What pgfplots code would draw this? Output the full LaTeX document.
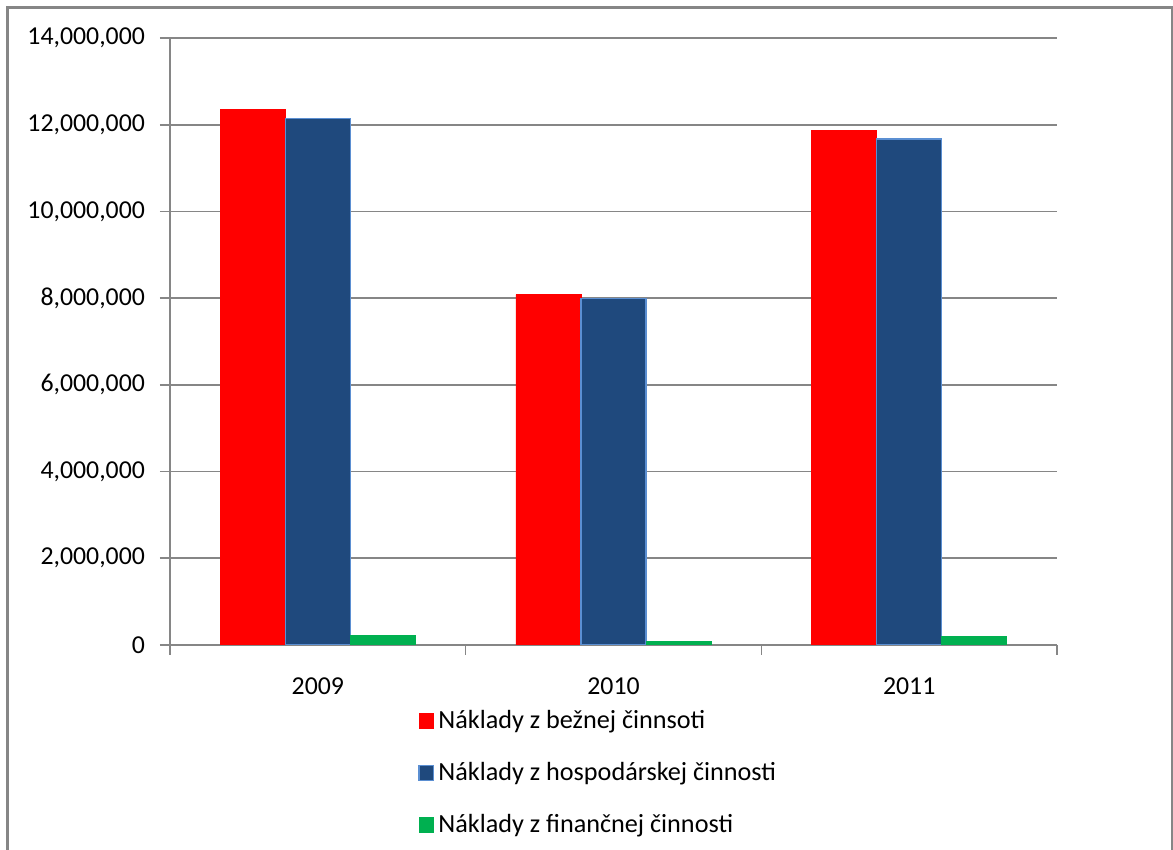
\documentclass[border=0pt]{standalone}
\usepackage{fontspec}
\setmainfont{Carlito}
\usepackage{pgfplots}
\pgfplotsset{compat=1.18}
\definecolor{gridgray}{HTML}{868686}
\definecolor{barred}{HTML}{FF0000}
\definecolor{barblue}{HTML}{1F497D}
\definecolor{barblueedge}{HTML}{5B8FD2}
\definecolor{bargreen}{HTML}{00B050}
\begin{document}
\begin{tikzpicture}
\useasboundingbox (0,0) rectangle (586.5pt,425pt);
\draw[gridgray, line width=1.2pt] (3.7pt,-2pt) -- (3.7pt,421.3pt) -- (586pt,421.3pt) -- (586pt,-2pt);
\begin{axis}[
  at={(85pt,102.5pt)}, anchor=south west,
  scale only axis, width=443.5pt, height=303.5pt,
  xmin=-0.5, xmax=2.5, ymin=0, ymax=14000000,
  axis x line*=bottom, axis y line*=left,
  axis line style={gridgray, line width=0.8pt},
  every axis plot/.append style={draw=none},
  xtick={0,1,2}, xticklabels={2009,2010,2011},
  major x tick style={draw=none},
  minor xtick={-0.5,0.5,1.5,2.5},
  minor x tick style={gridgray, line width=0.8pt},
  minor tick length=5pt,
  ytick={0,2000000,4000000,6000000,8000000,10000000,12000000,14000000},
  major y tick style={gridgray, line width=0.8pt},
  major tick length=5pt,
  tick align=outside,
  ymajorgrids, major grid style={gridgray, line width=0.8pt},
  scaled y ticks=false,
  /pgf/number format/.cd, fixed, 1000 sep={,}, assume math mode=true,
  /pgfplots/.cd,
  tick label style={font=\fontsize{12.9}{15}\selectfont, black},
  yticklabel style={xshift=-4pt},
  xticklabel style={yshift=-8pt},
  ybar, bar width=0.22,
  legend style={at={(0.2796,-0.10)}, anchor=north west, draw=none, fill=none,
    font=\fontsize{13.1}{15}\selectfont, row sep=11.5pt, inner sep=0pt,
    /tikz/every even column/.append style={column sep=4.5pt}},
  legend cell align=left,
  legend image code/.code={\draw[#1, draw opacity=1] (0pt,-3.7pt) rectangle (7.4pt,3.7pt);},
]
\addplot[fill=barred, draw=barred, bar shift=-0.22] coordinates {(0,12360000) (1,8080000) (2,11860000)};
\addplot[fill=barblue, draw=barblueedge, line width=0.6pt, bar shift=0] coordinates {(0,12140000) (1,8000000) (2,11670000)};
\addplot[fill=bargreen, draw=bargreen, bar shift=0.22] coordinates {(0,220000) (1,80000) (2,200000)};
\legend{Náklady z bežnej činnsoti, Náklady z hospodárskej činnosti, Náklady z finančnej činnosti}
\end{axis}
\end{tikzpicture}
\end{document}
